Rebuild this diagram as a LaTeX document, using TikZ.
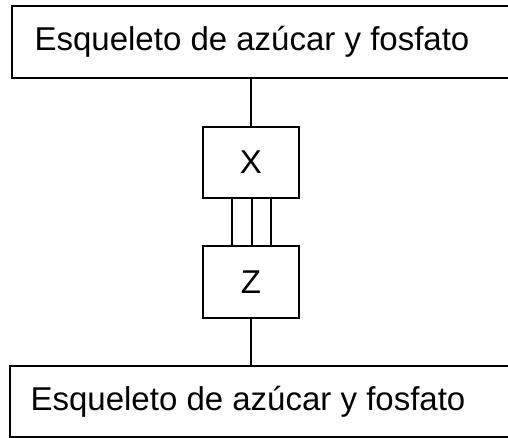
\documentclass[tikz,border=0pt]{standalone}
\usepackage{fontspec}
\setmainfont{Liberation Sans}
\begin{document}
\begin{tikzpicture}[x=1pt,y=1pt,
  box/.style={draw=black, line width=2pt, rectangle, inner sep=0pt},
  lbl/.style={font=\fontsize{33}{38}\selectfont},
  conn/.style={draw=black, line width=2pt}]
\useasboundingbox (0,0) rectangle (508,-438);
\fill[white] (0,0) rectangle (508,-438);
% top backbone box (extends past the right edge)
\node[box, minimum width=510pt, minimum height=72pt,
  label={[lbl, xshift=-15pt]center:Esqueleto de az\'ucar y fosfato}] (top) at (267,-42) {};
\node[box, lbl, minimum width=96pt, minimum height=71pt] (X) at (251,-162.5) {X};
\node[box, lbl, minimum width=96pt, minimum height=72pt] (Z) at (251,-282) {Z};
\node[box, minimum width=510pt, minimum height=71pt,
  label={[lbl, xshift=-17pt]center:Esqueleto de az\'ucar y fosfato}] (bot) at (265,-401.5) {};
\draw[conn] (X.north |- top.south) -- (X.north);
\draw[conn] (Z.south) -- (Z.south |- bot.north);
\draw[conn] ([xshift=-19pt]X.south) -- ([xshift=-19pt]Z.north);
\draw[conn] ([xshift=1pt]X.south) -- ([xshift=1pt]Z.north);
\draw[conn] ([xshift=20pt]X.south) -- ([xshift=20pt]Z.north);
\end{tikzpicture}
\end{document}
